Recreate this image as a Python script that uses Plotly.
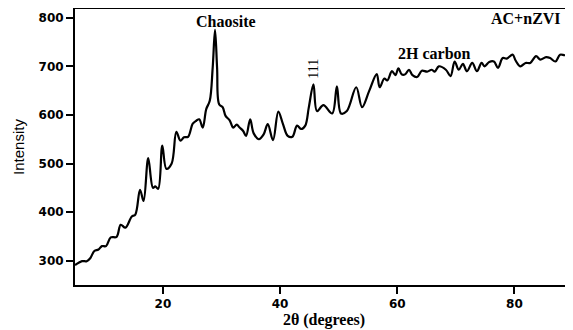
import plotly.graph_objects as go

two_theta = [5.0, 6.2, 7.0, 7.6, 8.3, 9.0, 9.6, 10.3, 11.1, 12.1, 12.8, 13.6, 14.7, 15.3,
             16.1, 16.7, 17.5, 18.3, 18.7, 19.2, 19.9, 20.6, 21.5, 22.3, 23.0, 23.6, 24.3,
             25.1, 25.7, 26.2, 26.8, 27.4, 28.0, 28.5, 28.9, 29.25, 29.6, 30.2, 30.7, 31.4,
             32.0, 32.6, 33.1, 33.7, 34.2, 34.9, 35.5, 36.4, 37.2, 37.9, 38.8, 39.7, 40.5,
             41.3, 42.1, 42.9, 43.6, 44.3, 44.9, 45.7, 46.3, 47.4, 48.9, 49.7, 50.4, 51.4,
             53.0, 54.0, 55.2, 56.5, 57.0, 57.8, 58.3, 59.1, 59.7, 60.2, 60.8, 61.4, 62.0,
             62.6, 63.4, 64.2, 65.1, 65.9, 66.4, 67.1, 68.3, 69.1, 69.8, 70.5, 71.2, 71.9,
             72.8, 73.6, 74.4, 74.9, 75.7, 76.5, 77.2, 78.0, 78.7, 79.7, 80.2, 81.0, 81.9,
             82.7, 83.7, 84.4, 85.4, 86.1, 87.0, 87.8, 88.7, 89.4, 90.0]
intensity = [291, 299, 299, 305, 320, 323, 330, 330, 348, 349, 374, 368, 391, 395,
             446, 423, 511, 450, 453, 448, 537, 489, 500, 565, 547, 554, 555,
             582, 588, 591, 574, 612, 629, 697, 775, 697, 622, 616, 598, 589,
             574, 580, 574, 567, 557, 591, 562, 550, 560, 581, 548, 607, 581,
             557, 555, 578, 571, 578, 615, 663, 608, 620, 603, 659, 603, 608,
             657, 616, 649, 684, 657, 675, 671, 690, 682, 696, 683, 684, 693,
             682, 678, 691, 689, 693, 689, 700, 693, 680, 710, 693, 705, 690,
             707, 690, 707, 700, 709, 710, 697, 717, 716, 724, 712, 700, 707,
             707, 721, 714, 719, 717, 710, 724, 723, 732, 731]

x_ticks = [20, 40, 60, 80]
y_ticks = [300, 400, 500, 600, 700, 800]

fig = go.Figure()
fig.add_trace(go.Scatter(x=two_theta, y=intensity, mode="lines",
                         line=dict(color="black", width=2.2, shape="spline", smoothing=1.0),
                         showlegend=False))

serif_b = dict(family="Liberation Serif, Times New Roman, serif", size=16, color="black")
fig.add_annotation(x=30.85, y=792, text="<b>Chaosite</b>", showarrow=False, font=serif_b)
fig.add_annotation(x=66.4, y=727, text="<b>2H carbon</b>", showarrow=False, font=serif_b)
fig.add_annotation(x=81.9, y=799, text="<b>AC+nZVI</b>", showarrow=False, font=serif_b)
fig.add_annotation(x=45.7, y=696, text="111", showarrow=False, textangle=-90,
                   font=dict(family="Liberation Serif, Times New Roman, serif", size=14, color="black"))

tickfont = dict(family="DejaVu Sans, sans-serif", size=12, color="black", weight="bold")
fig.update_xaxes(range=[5, 90], tickvals=x_ticks, ticks="outside", ticklen=7, tickwidth=2,
                 tickcolor="black", showline=True, linewidth=2, linecolor="black", mirror=True,
                 showgrid=False, zeroline=False, tickfont=tickfont,
                 title=dict(text="<b>2θ (degrees)</b>", standoff=3,
                            font=dict(family="Liberation Serif, Times New Roman, serif", size=16, color="black")))
fig.update_yaxes(range=[250, 818], tickvals=y_ticks, ticks="outside", ticklen=7, tickwidth=2,
                 tickcolor="black", showline=True, linewidth=2, linecolor="black", mirror=True,
                 showgrid=False, zeroline=False, tickfont=tickfont,
                 title=dict(text="Intensity", standoff=10,
                            font=dict(family="Liberation Sans, Arial, sans-serif", size=15, color="black")))
fig.update_layout(width=565, height=322, margin=dict(l=67, r=0, t=1, b=45, autoexpand=False),
                  plot_bgcolor="white", paper_bgcolor="white")
fig.write_html("out.html")
